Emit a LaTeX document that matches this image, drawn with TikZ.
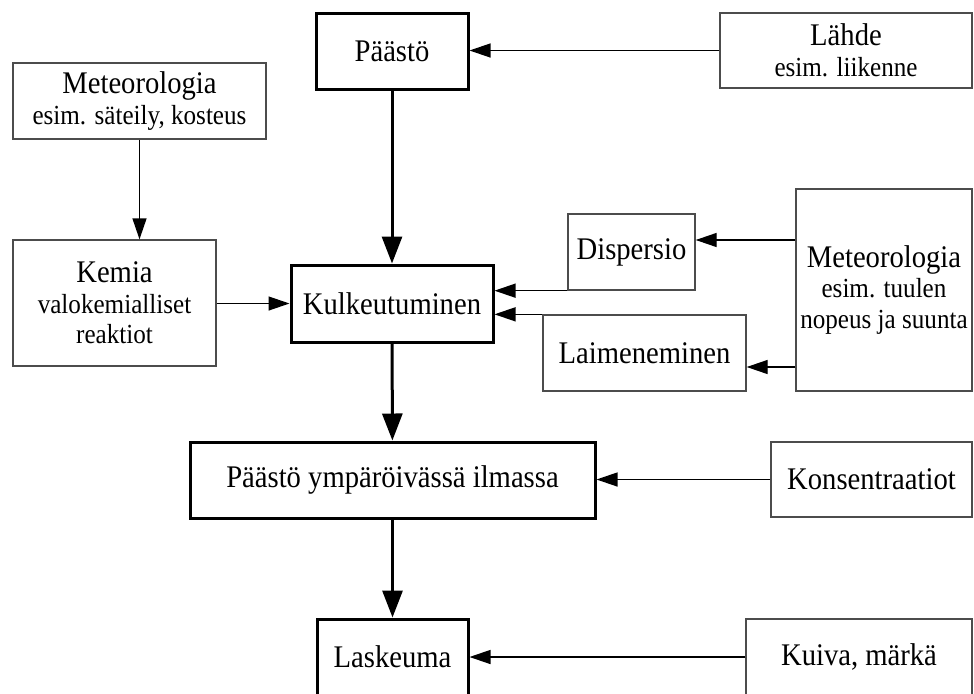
\documentclass[tikz,border=0pt]{standalone}
\usepackage{fontspec}
\setmainfont[FakeStretch=0.91]{Liberation Serif}
\usetikzlibrary{arrows.meta}
\newcommand{\subtxt}[1]{{\fontsize{20.7}{21.5}\selectfont #1}}

\begin{document}
\begin{tikzpicture}[x=0.75pt,y=-0.75pt,
	main node/.style={rectangle,draw,line width=2.25pt,align=center,inner sep=0pt,font=\fontsize{23.6}{23}\selectfont},
	side node/.style={rectangle,draw=black!70,line width=1pt,align=center,inner sep=0pt,font=\fontsize{23.6}{23}\selectfont},
	main edge/.style={line width=2.25pt,-{Triangle[length=20.25pt,width=15pt]}},
	side edge/.style={line width=1pt,-{Triangle[length=15.75pt,width=10.5pt]}}]
	\useasboundingbox (0,0) rectangle (974,693);
	% main chain
	\node[main node,minimum width=114pt,minimum height=57pt] (paasto) at (392,51) {Päästö};
	\node[main node,minimum width=151.5pt,minimum height=57.75pt] (kulk) at (392,303.5) {Kulkeutuminen};
	\node[main node,minimum width=303.75pt,minimum height=57pt] (ilma) at (392.5,480) {Päästö ympäröivässä ilmassa};
	\node[main node,minimum width=113.25pt,minimum height=57pt] (laskeuma) at (392.5,657) {Laskeuma};
	% side boxes
	\node[side node,minimum width=189pt,minimum height=56.25pt] (lahde) at (846,50.5) {Lähde\\ \subtxt{esim. liikenne}};
	\node[side node,minimum width=189.75pt,minimum height=57pt] (meteo1) at (139.5,101) {Meteorologia\\ \subtxt{esim. säteily, kosteus}};
	\node[side node,minimum width=152.25pt,minimum height=94.5pt] (kemia) at (114.5,303) {Kemia\\ \subtxt{valokemialliset}\\ \subtxt{reaktiot}};
	\node[side node,minimum width=95.25pt,minimum height=57pt] (dispersio) at (631.5,252) {Dispersio};
	\node[side node,minimum width=152.25pt,minimum height=57pt] (laim) at (644.5,353) {Laimeneminen};
	\node[side node,minimum width=132pt,minimum height=151.5pt] (meteo2) at (884,290) {Meteorologia\\ \subtxt{esim. tuulen}\\ \subtxt{nopeus ja suunta}};
	\node[side node,minimum width=150.75pt,minimum height=56.25pt] (konsentr) at (871.5,479.5) {Konsentraatiot};
	\node[side node,minimum width=169.5pt,minimum height=57pt] (kuiva) at (859,657) {Kuiva, märkä};

	\draw[main edge] (paasto) -- (kulk);
	\draw[main edge] (kulk) -- (ilma);
	\draw[main edge] (ilma) -- (laskeuma);

	\draw[side edge] (lahde.west) -- (lahde.west -| paasto.east);
	\draw[side edge] (meteo1.south) -- (meteo1.south |- kemia.north);
	\draw[side edge] (kulk.west -| kemia.east) -- (kulk.west);
	\draw[side edge] (dispersio.south west) -- (dispersio.south west -| kulk.east);
	\draw[side edge] (laim.north west) -- (laim.north west -| kulk.east);
	\draw[side edge] ([yshift=9pt]meteo2.west |- dispersio.east) -- ([yshift=9pt]dispersio.east);
	\draw[side edge] ([yshift=-10.5pt]meteo2.west |- laim.east) -- ([yshift=-10.5pt]laim.east);
	\draw[side edge] (konsentr.west) -- (konsentr.west -| ilma.east);
	\draw[side edge] (kuiva.west) -- (kuiva.west -| laskeuma.east);
\end{tikzpicture}
\end{document}
